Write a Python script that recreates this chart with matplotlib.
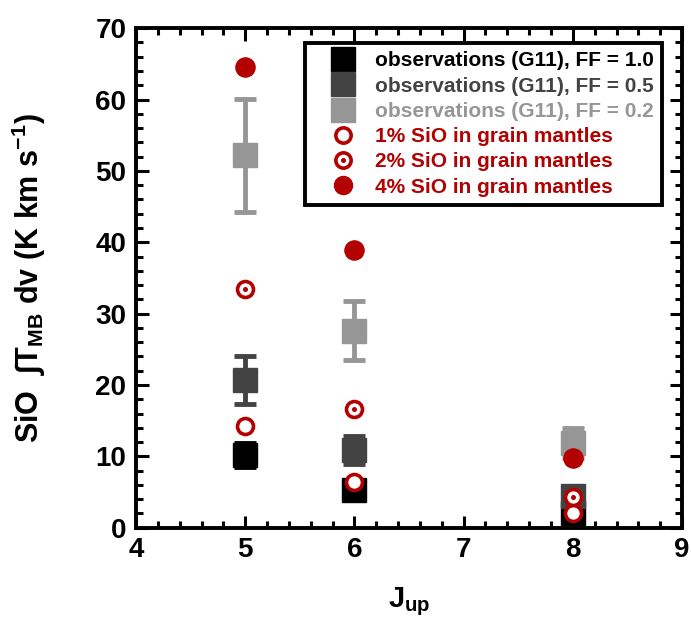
import numpy as np
import matplotlib
matplotlib.use('Agg')
import matplotlib.pyplot as plt
from matplotlib.lines import Line2D
from matplotlib.ticker import MultipleLocator

plt.rcParams['font.family'] = ['Liberation Sans', 'DejaVu Sans']
plt.rcParams['font.weight'] = 'bold'
plt.rcParams['mathtext.fontset'] = 'custom'
plt.rcParams['mathtext.bf'] = 'Liberation Sans:bold'
plt.rcParams['mathtext.rm'] = 'Liberation Sans:bold'
plt.rcParams['mathtext.default'] = 'bf'

# Data
j_up = [5, 6, 8]
obs_ff10 = [10.2, 5.3, 2.1]
obs_ff10_err = [1.7, 1.2, 0.8]
obs_ff05 = [20.7, 10.9, 4.5]
obs_ff05_err = [3.3, 2.0, 1.0]
obs_ff02 = [52.2, 27.6, 11.9]
obs_ff02_err = [7.9, 4.1, 2.1]
sio_1pct = [14.3, 6.4, 2.0]
sio_2pct = [33.5, 16.7, 4.3]
sio_4pct = [64.6, 38.9, 9.7]

labels = ['observations (G11), FF = 1.0',
          'observations (G11), FF = 0.5',
          'observations (G11), FF = 0.2',
          '1% SiO in grain mantles',
          '2% SiO in grain mantles',
          '4% SiO in grain mantles']

black = '#000000'
dgray = '#434343'
lgray = '#969696'
red = '#b30000'

fig = plt.figure(figsize=(6.91, 6.26), dpi=100)
ax = fig.add_axes([0.197, 0.157, 0.790, 0.798])

# observations, drawn black -> dark -> light
for y, err, c in [(obs_ff10, obs_ff10_err, black),
                  (obs_ff05, obs_ff05_err, dgray),
                  (obs_ff02, obs_ff02_err, lgray)]:
    ax.errorbar(j_up, y, yerr=err, fmt='s', color=c, ms=17, mec=c,
                elinewidth=3.5, capsize=8, capthick=3.5, zorder=2)

# models
ax.plot(j_up, sio_1pct, 'o', ms=11.5, mfc='white', mec=red, mew=2.6, zorder=3)
ax.plot(j_up, sio_2pct, 'o', ms=11.5, mfc='white', mec=red, mew=2.6, zorder=3)
ax.plot(j_up, sio_2pct, 'o', ms=2.6, color=red, zorder=4)
ax.plot(j_up, sio_4pct, 'o', ms=13.8, color=red, zorder=3)

ax.set_xlim(4, 9)
ax.set_ylim(0, 70)
ax.xaxis.set_major_locator(MultipleLocator(1))
ax.xaxis.set_minor_locator(MultipleLocator(0.2))
ax.yaxis.set_major_locator(MultipleLocator(10))
ax.yaxis.set_minor_locator(MultipleLocator(2))
ax.tick_params(which='both', direction='in', top=True, right=True, width=2.2)
ax.tick_params(which='major', length=9, labelsize=20, pad=7)
ax.tick_params(which='minor', length=5)
for s in ax.spines.values():
    s.set_linewidth(2.8)
for lab in ax.get_xticklabels() + ax.get_yticklabels():
    lab.set_fontweight('bold')

ax.set_xlabel(r'J$_{up}$', fontsize=21, fontweight='bold', labelpad=16)
ax.set_ylabel('SiO  \u222bT$_{MB}$ dv (K km s$^{-1}$)', fontsize=22,
              fontweight='bold', labelpad=34)

# legend
handles = [
    Line2D([], [], ls='none', marker='s', ms=17.5, color=black),
    Line2D([], [], ls='none', marker='s', ms=17.5, color=dgray),
    Line2D([], [], ls='none', marker='s', ms=17.5, color=lgray),
    Line2D([], [], ls='none', marker='o', ms=11, mfc='white', mec=red, mew=2.6),
    (Line2D([], [], ls='none', marker='o', ms=11, mfc='white', mec=red, mew=2.6),
     Line2D([], [], ls='none', marker='o', ms=2.6, color=red)),
    Line2D([], [], ls='none', marker='o', ms=13, color=red),
]
leg = ax.legend(handles, labels, loc='upper right', bbox_to_anchor=(0.963, 0.97),
                fontsize=15, frameon=True, fancybox=False, edgecolor='black',
                framealpha=1, handletextpad=0.05, labelspacing=0.3,
                borderpad=0.4, handlelength=2.9, borderaxespad=0)
leg.get_frame().set_linewidth(2.8)
for txt, c in zip(leg.get_texts(), [black, dgray, lgray, red, red, red]):
    txt.set_color(c)
    txt.set_fontweight('bold')

fig.savefig('out.png', dpi=100)
